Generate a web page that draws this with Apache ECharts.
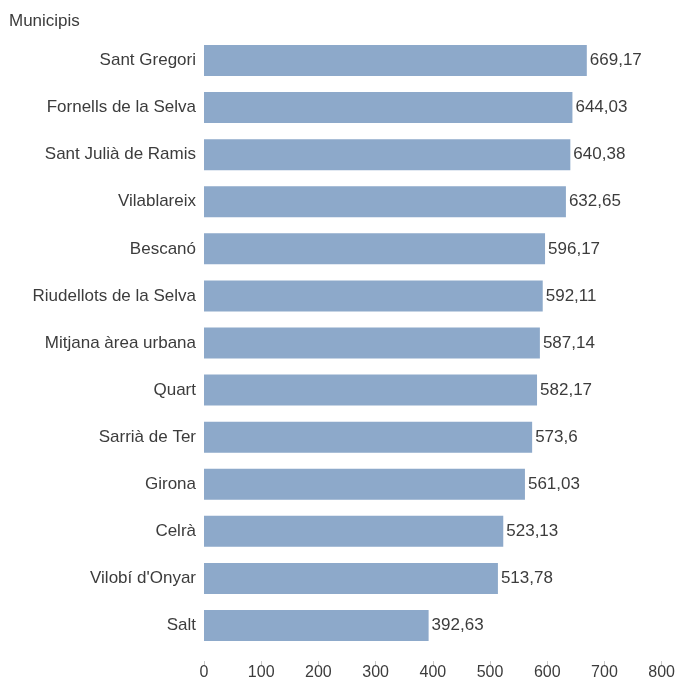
<!DOCTYPE html>
<html>
<head>
<meta charset="utf-8">
<script src="https://cdn.jsdelivr.net/npm/echarts@6/dist/echarts.min.js"></script>
<style>
html, body { margin: 0; padding: 0; background: #fff; }
#chart { width: 678px; height: 684px; }
</style>
</head>
<body>
<div id="chart"></div>
<script>
var municipis = ['Sant Gregori', 'Fornells de la Selva', 'Sant Julià de Ramis', 'Vilablareix', 'Bescanó',
    'Riudellots de la Selva', 'Mitjana àrea urbana', 'Quart', 'Sarrià de Ter', 'Girona', 'Celrà',
    'Vilobí d\'Onyar', 'Salt'];
var valors = [669.17, 644.03, 640.38, 632.65, 596.17, 592.11, 587.14, 582.17, 573.6, 561.03, 523.13, 513.78, 392.63];
var ticks = [0, 100, 200, 300, 400, 500, 600, 700, 800];

var font = 'Liberation Sans, Arial, sans-serif';
var chart = echarts.init(document.getElementById('chart'));
chart.setOption({
    animation: false,
    title: {
        text: 'Municipis',
        left: 4,
        top: 8,
        textStyle: { fontFamily: font, fontSize: 17, fontWeight: 'normal', color: '#3c3c3c' }
    },
    grid: { left: 204, right: 16, top: 37, bottom: 35, containLabel: false },
    xAxis: {
        type: 'value',
        min: ticks[0],
        max: ticks[ticks.length - 1],
        interval: 100,
        offset: 12,
        splitLine: { show: false },
        axisLine: { show: false },
        axisTick: { show: true, length: 5, lineStyle: { color: '#c8c8c8' } },
        axisLabel: { fontFamily: font, fontSize: 16, color: '#3c3c3c', margin: 4 }
    },
    yAxis: {
        type: 'category',
        data: municipis,
        inverse: true,
        axisLine: { show: false },
        axisTick: { show: false },
        axisLabel: { fontFamily: font, fontSize: 17, color: '#3c3c3c', margin: 8 }
    },
    series: [{
        type: 'bar',
        data: valors,
        barWidth: 31,
        itemStyle: { color: '#8da9ca' },
        label: {
            show: true,
            position: 'right',
            distance: 3,
            fontFamily: font,
            fontSize: 17,
            color: '#3c3c3c',
            formatter: function (p) { return String(p.value).replace('.', ','); }
        }
    }]
});
</script>
</body>
</html>
